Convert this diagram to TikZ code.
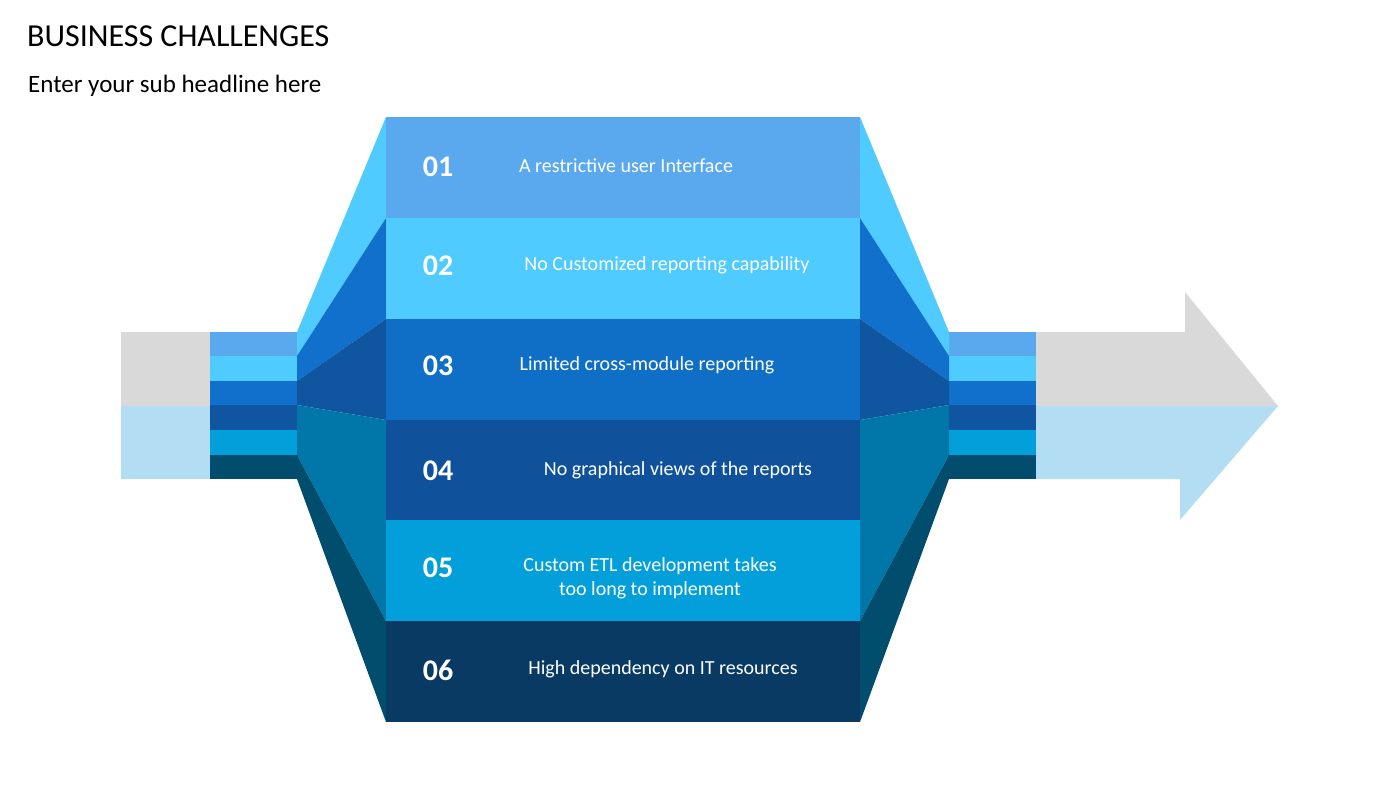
\documentclass[tikz,border=0pt]{standalone}
\usepackage{fontspec}
\setmainfont{Carlito}
\definecolor{cA}{HTML}{5AA9EE}\definecolor{cB}{HTML}{4FCBFF}\definecolor{cC}{HTML}{0F6FC6}
\definecolor{cD}{HTML}{0F529B}\definecolor{cE}{HTML}{039FDB}\definecolor{cF}{HTML}{083A63}
\definecolor{sC}{HTML}{1070CC}\definecolor{sD}{HTML}{0F55A0}\definecolor{tl}{HTML}{0077A8}\definecolor{dt}{HTML}{004D6E}
\definecolor{gr}{HTML}{D9D9D9}\definecolor{lb}{HTML}{B3DDF2}
\begin{document}
\begin{tikzpicture}[x=1pt,y=-1pt,
 num/.style={text=white,font=\fontsize{30}{30}\selectfont\bfseries},
 lbl/.style={text=white,font=\fontsize{20}{24}\selectfont,align=center}]
\useasboundingbox (0,0) rectangle (1400,788);
\node[anchor=north west,inner sep=0,font=\fontsize{32}{32}\selectfont] (title) at (27,26) {BUSINESS CHALLENGES};
\node[anchor=north west,inner sep=0,font=\fontsize{25}{25}\selectfont] (sub) at (28,75) {Enter your sub headline here};
% left input
\fill[gr] (121,332) rectangle (210,406);
\fill[lb] (121,406) rectangle (210,479);
% arrow right
\fill[gr] (1036,332) -- (1185,332) -- (1185,292) -- (1278,406) -- (1036,406) -- cycle;
\fill[lb] (1036,406) -- (1278,406) -- (1180,520) -- (1180,479) -- (1036,479) -- cycle;
% stripes
\foreach \x in {210,948}{
\fill[cA] (\x,332) rectangle ++(88,24);
\fill[cB] (\x,356) rectangle ++(88,25);
\fill[sC] (\x,381) rectangle ++(88,24);
\fill[sD] (\x,405) rectangle ++(88,25);
\fill[cE] (\x,430) rectangle ++(88,25);
\fill[dt] (\x,455) rectangle ++(88,24);}
% funnels
\foreach \a/\b in {297/386,949/860}{
\fill[cB] (\a,332) -- (\b,117) -- (\b,218) -- (\a,356) -- cycle;
\fill[sC] (\a,356) -- (\b,218) -- (\b,319) -- (\a,381) -- cycle;
\fill[sD] (\a,381) -- (\b,319) -- (\b,420) -- (\a,405) -- cycle;
\fill[tl] (\a,405) -- (\b,420) -- (\b,621) -- (\a,455) -- cycle;
\fill[dt] (\a,455) -- (\b,621) -- (\b,722) -- (\a,479) -- cycle;}
% rows
\fill[cA] (386,117) rectangle (860,218);
\fill[cB] (386,218) rectangle (860,319);
\fill[cC] (386,319) rectangle (860,420);
\fill[cD] (386,420) rectangle (860,520);
\fill[cE] (386,520) rectangle (860,621);
\fill[cF] (386,621) rectangle (860,722);
\node[num] (n1) at (438,167) {01};
\node[num] (n2) at (438,266) {02};
\node[num] (n3) at (438,366) {03};
\node[num] (n4) at (438,471) {04};
\node[num] (n5) at (438,568) {05};
\node[num] (n6) at (438,670) {06};
\node[lbl] (l1) at (626,166) {A restrictive user Interface};
\node[lbl] (l2) at (667,265) {No Customized reporting capability};
\node[lbl] (l3) at (647,365) {Limited cross-module reporting};
\node[lbl] (l4) at (678,470) {No graphical views of the reports};
\node[lbl] (l5) at (650,578) {Custom ETL development takes\\too long to implement};
\node[lbl] (l6) at (663,669) {High dependency on IT resources};
\end{tikzpicture}
\end{document}
